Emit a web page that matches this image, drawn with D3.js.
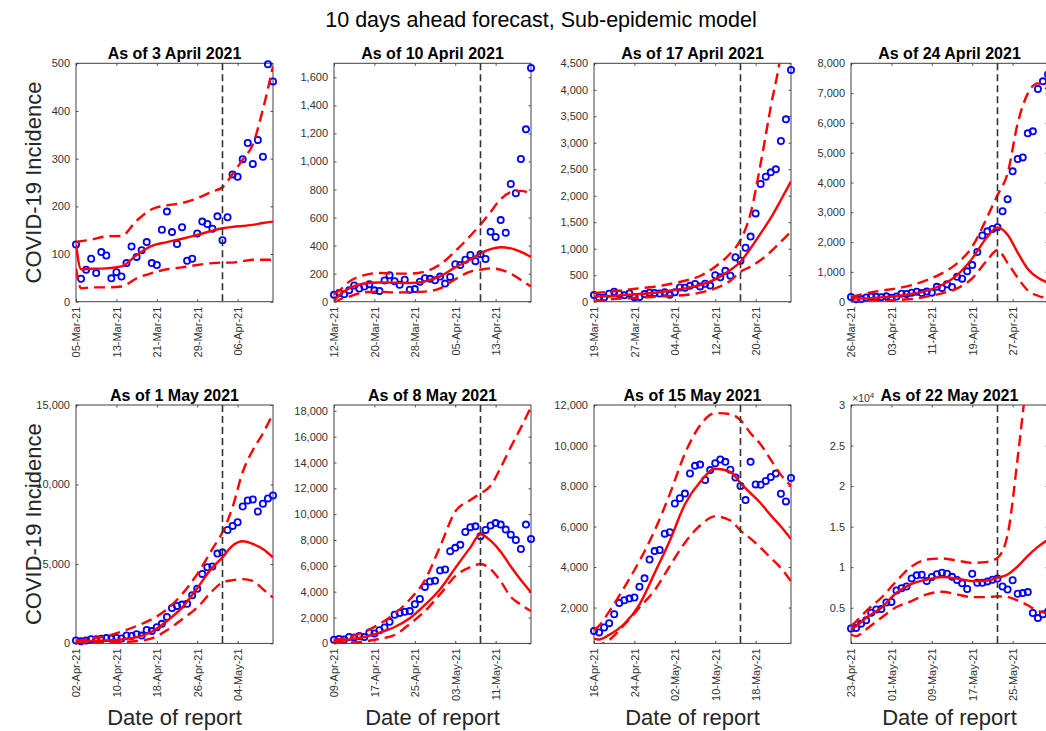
<!DOCTYPE html>
<html>
<head>
<meta charset="utf-8">
<script src="https://cdn.jsdelivr.net/npm/d3@7"></script>
<style>
  body { margin: 0; background: #fff; }
  text { font-family: "Liberation Sans", Arial, Helvetica, sans-serif; }
</style>
</head>
<body>
<script>
let W = 1046;
let H = 731;
let plotW = 197;
let plotH = 238.4;
let colLeft = [76, 334, 594, 851];
let rowTop = [63.3, 405];

// observed daily incidence, 05-Mar-2021 .. 01-Jun-2021
let obsStart = "2021-03-05";
let incidence = [
  120, 48, 67, 90, 60, 104, 97, 49, 62, 53, 81, 116, 94, 108, 125, 81, 77, 151, 189, 146,
  121, 156, 86, 90, 143, 168, 163,
  153, 179, 129, 177, 267, 262, 299, 333, 289, 339, 304, 498, 462, 582, 492, 839, 773, 1018,
  1229, 1667, 2222, 2360, 2442, 2498, 3033, 3442, 4374, 4787, 4843, 5649,
  5716, 7136, 7394, 7626, 8616, 8995, 9058, 8300, 8785, 9122, 9311, 9194, 8806, 8417, 8003,
  7304, 9194, 8080, 8066, 8248, 8446, 8612, 7620, 7240, 8397, 6721, 6803, 6926, 4350, 3720, 4200,
  4500
];

let forecastDates = ["2021-04-03", "2021-04-10", "2021-04-17", "2021-04-24",
                     "2021-05-01", "2021-05-08", "2021-05-15", "2021-05-22"];
let panelTitles = ["As of 3 April 2021", "As of 10 April 2021", "As of 17 April 2021", "As of 24 April 2021",
                   "As of 1 May 2021", "As of 8 May 2021", "As of 15 May 2021", "As of 22 May 2021"];

// fitted curve samples, days counted from window start
let fitDays = [0, 1, 3, 6, 9, 12, 15, 18, 21, 24, 27, 29, 31, 33, 35, 37, 39];

let fitMean = [
  [120, 68, 69, 70, 74, 98, 117, 125, 132, 140, 149, 154, 157, 159, 161, 165, 168],
  [5, 45, 95, 130, 137, 135, 133, 145, 180, 245, 300, 345, 375, 388, 380, 355, 320],
  [94, 100, 107, 126, 145, 170, 208, 252, 315, 422, 598, 755, 1007, 1290, 1580, 1920, 2270],
  [112, 110, 112, 145, 190, 257, 369, 559, 895, 1454, 2181, 2494, 2250, 1650, 1100, 800, 640],
  [105, 120, 147, 190, 253, 400, 737, 1411, 2254, 3476, 4782, 5414, 6151, 6425, 6257, 5941, 5414],
  [180, 200, 311, 492, 829, 1269, 1942, 2978, 4196, 5828, 7433, 8450, 7950, 7100, 5950, 4900, 3950],
  [470, 420, 650, 1200, 2150, 3700, 5300, 7100, 8200, 8850, 8700, 8150, 7650, 7150, 6550, 6000, 5380],
  [2340, 2700, 3770, 5000, 6840, 7950, 8480, 8770, 8610, 8280, 8360, 8690, 9100, 10100, 11400, 12500, 13400]
];
let fitLower = [
  [70, 28, 30, 30, 32, 49, 60, 68, 72, 77, 81, 82, 82, 85, 88, 88, 88],
  [-20, 12, 36, 67, 71, 66, 67, 72, 95, 160, 215, 228, 238, 228, 200, 155, 108],
  [0, 20, 44, 63, 76, 94, 107, 126, 170, 252, 396, 566, 661, 787, 944, 1133, 1322],
  [0, 0, 0, 22, 56, 89, 168, 280, 447, 783, 1398, 1734, 1300, 800, 380, 200, 110],
  [0, 0, 0, 42, 84, 147, 316, 822, 1517, 2254, 3307, 3834, 3981, 4045, 3939, 3413, 2886],
  [0, 0, 50, 150, 350, 650, 1500, 2500, 3800, 5200, 5900, 6140, 5750, 4800, 3600, 3000, 2500],
  [100, 150, 400, 1150, 2000, 2850, 4050, 5200, 6050, 6500, 6300, 5800, 5400, 4950, 4450, 3950, 3300],
  [1700, 1500, 2340, 3770, 5080, 5820, 6640, 6970, 6640, 6310, 6310, 6400, 6310, 5900, 5300, 4600, 4300]
];
let fitUpper = [
  [125, 127, 130, 137, 138, 170, 194, 202, 207, 217, 231, 240, 268, 298, 330, 403, 494],
  [55, 78, 143, 190, 205, 200, 200, 215, 265, 360, 470, 550, 640, 730, 780, 790, 770],
  [157, 170, 189, 220, 252, 283, 334, 396, 485, 661, 913, 1164, 1668, 2612, 3682, 4700, 6500],
  [168, 200, 280, 369, 447, 559, 727, 951, 1286, 1846, 2852, 3579, 4306, 5984, 6991, 7327, 7103],
  [147, 200, 316, 463, 737, 1095, 1517, 2149, 3097, 4361, 5941, 6994, 8574, 10786, 12155, 13208, 14472],
  [250, 330, 500, 900, 1500, 2300, 3400, 4900, 7500, 10200, 11100, 11600, 12200, 13600, 15200, 16700, 18300],
  [900, 1100, 1800, 3000, 4300, 5800, 7600, 9600, 11000, 11600, 11550, 11250, 10600, 10050, 9300, 8550, 8000],
  [2750, 3300, 4590, 6230, 8280, 10100, 10940, 11070, 10820, 10530, 10660, 11150, 14000, 23500, 35000, 50000, 60000]
];

let yDomains = [[0, 500], [0, 1700], [0, 4500], [0, 8000], [0, 15000], [0, 18450], [230, 12000], [600, 30000]];
let yTicks = [
  [0, 100, 200, 300, 400, 500],
  [0, 200, 400, 600, 800, 1000, 1200, 1400, 1600],
  [0, 500, 1000, 1500, 2000, 2500, 3000, 3500, 4000, 4500],
  [0, 1000, 2000, 3000, 4000, 5000, 6000, 7000, 8000],
  [0, 5000, 10000, 15000],
  [0, 2000, 4000, 6000, 8000, 10000, 12000, 14000, 16000, 18000],
  [2000, 4000, 6000, 8000, 10000, 12000],
  [5000, 10000, 15000, 20000, 25000, 30000]
];

let parseDate = d3.timeParse("%Y-%m-%d");
let formatTick = d3.timeFormat("%d-%b-%y");
let comma = d3.format(",");
let t0 = parseDate(obsStart);

let svg = d3.select("body")
  .append("svg")
  .attr("width", W)
  .attr("height", H);

svg.append("text")
  .attr("x", 541)
  .attr("y", 27)
  .attr("text-anchor", "middle")
  .attr("font-size", "21.5px")
  .attr("fill", "#000")
  .text("10 days ahead forecast, Sub-epidemic model");

forecastDates.forEach((fd, i) => {
  let col = i % 4;
  let row = Math.floor(i / 4);
  let fDate = parseDate(fd);
  let start = d3.timeDay.offset(fDate, -29);
  let end = d3.timeDay.offset(fDate, 10);

  let xScale = d3.scaleTime().domain([start, end]).range([0, plotW]);
  let yScale = d3.scaleLinear().domain(yDomains[i]).range([plotH, 0]);

  let g = svg.append("g")
    .attr("transform", "translate(" + colLeft[col] + "," + rowTop[row] + ")");

  g.append("clipPath")
    .attr("id", "clip" + i)
    .append("rect")
    .attr("width", plotW)
    .attr("height", plotH);

  let yFmt = (i == 7) ? (d) => String(d / 1e4) : (d) => comma(d);

  // axes with inward ticks, mirrored on the right and top
  let yAxis = d3.axisLeft(yScale).tickValues(yTicks[i]).tickSize(-2.5).tickPadding(6).tickFormat(yFmt);
  let yAxisR = d3.axisRight(yScale).tickValues(yTicks[i]).tickSize(-2.5).tickFormat("");
  let xTicks = [0, 8, 16, 24, 32].map((k) => d3.timeDay.offset(start, k));
  let xAxis = d3.axisBottom(xScale).tickValues(xTicks).tickSize(-2.5).tickFormat(formatTick);
  let xAxisT = d3.axisTop(xScale).tickValues(xTicks).tickSize(-2.5).tickFormat("");

  g.append("g").call(yAxis);
  g.append("g").attr("transform", "translate(" + plotW + ",0)").call(yAxisR);
  let xa = g.append("g").attr("transform", "translate(0," + plotH + ")").call(xAxis);
  g.append("g").call(xAxisT);

  g.selectAll(".domain").remove();
  g.selectAll(".tick line").attr("stroke", "#262626").attr("stroke-width", 0.8);
  g.selectAll(".tick text")
    .attr("fill", "#333")
    .attr("font-size", "11px")
    .attr("font-family", "Liberation Sans, Arial, sans-serif");

  xa.selectAll(".tick text")
    .attr("transform", "rotate(-90)")
    .attr("x", -5)
    .attr("y", 0)
    .attr("dy", "0.35em")
    .attr("text-anchor", "end");

  // box
  g.append("rect")
    .attr("width", plotW)
    .attr("height", plotH)
    .attr("fill", "none")
    .attr("stroke", "#404040")
    .attr("stroke-width", 1);

  // observed points
  let offset = d3.timeDay.count(t0, start);
  let obs = incidence.slice(offset, offset + 40).map((v, k) => ({ date: d3.timeDay.offset(start, k), value: v }));

  g.selectAll("circle")
    .data(obs)
    .enter()
    .append("circle")
    .attr("cx", (d) => xScale(d.date))
    .attr("cy", (d) => yScale(d.value))
    .attr("r", 3.1)
    .attr("fill", "none")
    .attr("stroke", "#0000ff")
    .attr("stroke-width", 1.8);

  // fit and bounds
  let line = d3.line()
    .x((d) => xScale(d3.timeDay.offset(start, d[0])))
    .y((d) => yScale(d[1]))
    .curve(d3.curveMonotoneX);

  let lines = g.append("g").attr("clip-path", "url(#clip" + i + ")");

  [fitLower[i], fitUpper[i]].forEach((arr) => {
    lines.append("path")
      .datum(fitDays.map((d, k) => [d, arr[k]]))
      .attr("d", line)
      .attr("fill", "none")
      .attr("stroke", "#ff0000")
      .attr("stroke-width", 2.4)
      .attr("stroke-dasharray", "11,6");
  });

  lines.append("path")
    .datum(fitDays.map((d, k) => [d, fitMean[i][k]]))
    .attr("d", line)
    .attr("fill", "none")
    .attr("stroke", "#ff0000")
    .attr("stroke-width", 2.4);

  // forecast start
  g.append("line")
    .attr("x1", xScale(fDate))
    .attr("x2", xScale(fDate))
    .attr("y1", 0)
    .attr("y2", plotH)
    .attr("stroke", "#333")
    .attr("stroke-width", 1.6)
    .attr("stroke-dasharray", "7,4");

  g.append("text")
    .attr("x", plotW / 2)
    .attr("y", -4.5)
    .attr("text-anchor", "middle")
    .attr("font-size", "16px")
    .attr("font-weight", "bold")
    .attr("fill", "#000")
    .text(panelTitles[i]);

  if (i == 7) {
    let ex = g.append("text")
      .attr("x", 1)
      .attr("y", -3)
      .attr("font-size", "10.5px")
      .attr("fill", "#333")
      .text("\u00d710");
    ex.append("tspan").attr("dy", -4).attr("font-size", "8px").text("4");
  }

  if (col == 0) {
    g.append("text")
      .attr("transform", "translate(-35," + (plotH / 2) + ") rotate(-90)")
      .attr("text-anchor", "middle")
      .attr("font-size", "22px")
      .attr("fill", "#262626")
      .text("COVID-19 Incidence");
  }

  if (row == 1) {
    g.append("text")
      .attr("x", plotW / 2)
      .attr("y", 82)
      .attr("transform", "translate(0," + plotH + ")")
      .attr("text-anchor", "middle")
      .attr("font-size", "22px")
      .attr("fill", "#262626")
      .text("Date of report");
  }
});
</script>
</body>
</html>
